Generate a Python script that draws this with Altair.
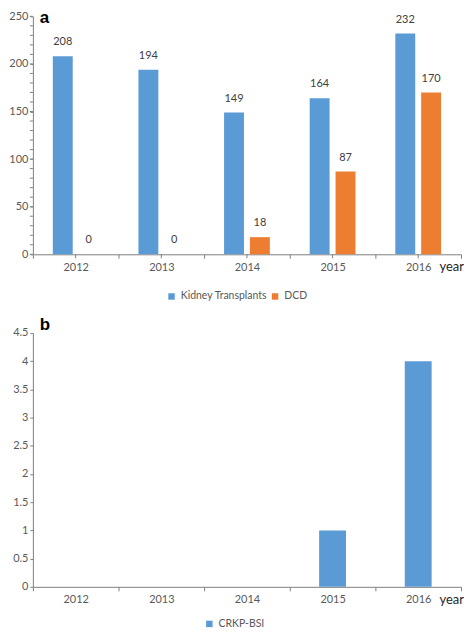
import altair as alt
import pandas as pd

years = ["2012", "2013", "2014", "2015", "2016"]
kidney = [208, 194, 149, 164, 232]
dcd = [0, 0, 18, 87, 170]
crkp = [0, 0, 0, 1, 4]
series_a = ["Kidney Transplants", "DCD"]
series_b = ["CRKP-BSI"]
colors_a = ["#5B9BD5", "#ED7D31"]
colors_b = ["#5B9BD5"]
major_a = [0, 50, 100, 150, 200, 250]
minor_a = list(range(0, 251, 10))
ticks_b = [0, 0.5, 1, 1.5, 2, 2.5, 3, 3.5, 4, 4.5]

df_a = pd.DataFrame({
    "year": years * 2,
    "series": [series_a[0]] * len(years) + [series_a[1]] * len(years),
    "value": kidney + dcd,
})
df_b = pd.DataFrame({"year": years, "series": series_b[0], "value": crkp})
df_years = pd.DataFrame({"year": years})
df_minor = pd.DataFrame({"value": minor_a})

W = 430
HA = 239
HB = 255
FONT = "Lato"
AXC = "#7F7F7F"
LBC = "#595959"
LFS = 11


def x_enc():
    return alt.X(
        "year:N", sort=years, title=None,
        scale=alt.Scale(paddingInner=0, paddingOuter=0),
        axis=alt.Axis(tickBand="extent", tickSize=4, tickColor=AXC, domainColor=AXC,
                      labelFont=FONT, labelFontSize=LFS, labelColor=LBC, labelPadding=3,
                      labelAngle=0),
    )


def year_label(h):
    return alt.Chart(df_years.head(1)).mark_text(
        font=FONT, fontSize=13, color="#262626", align="right", baseline="middle"
    ).encode(x=alt.value(W + 3), y=alt.value(h + 13), text=alt.value("year"))


def panel_letter(letter, y):
    return alt.Chart(df_years.head(1)).mark_text(
        font="Liberation Sans", fontSize=17, fontWeight="bold", color="black",
        align="left", baseline="top"
    ).encode(x=alt.value(7), y=alt.value(y), text=alt.value(letter))


# ---- panel a
base_a = alt.Chart(df_a)
y_a = alt.Y("value:Q", title=None,
            scale=alt.Scale(domain=[0, 250], nice=False),
            axis=alt.Axis(values=major_a, grid=False, tickSize=3, tickColor=AXC,
                          domainColor=AXC, labelFont=FONT, labelFontSize=LFS,
                          labelColor=LBC, labelPadding=2))
xoff_a = alt.XOffset("series:N", sort=series_a,
                     scale=alt.Scale(paddingInner=0.2308, paddingOuter=0.77))
color_a = alt.Color("series:N", sort=series_a,
                    scale=alt.Scale(domain=series_a, range=colors_a),
                    legend=alt.Legend(title=None, orient="none", legendX=134, legendY=HA + 37,
                                      direction="horizontal", symbolType="square",
                                      symbolSize=42, symbolStrokeWidth=0, labelFont=FONT,
                                      labelFontSize=10.5, labelColor=LBC, columnPadding=2,
                                      labelOffset=4, padding=0))
bars_a = base_a.mark_bar().encode(x=x_enc(), xOffset=xoff_a, y=y_a, color=color_a)
labels_a = base_a.mark_text(font=FONT, fontSize=LFS, color="#404040", dy=-14).encode(
    x=alt.X("year:N", sort=years), xOffset=xoff_a, y="value:Q", text="value:Q")
cticks_a = alt.Chart(df_years).mark_rule(color=AXC).encode(
    x=alt.X("year:N", sort=years), y=alt.value(HA), y2=alt.value(HA + 4))
minor_ticks_a = alt.Chart(df_minor).mark_rule(color=AXC).encode(
    y=alt.Y("value:Q"), x=alt.value(-3), x2=alt.value(0))
panel_a = alt.layer(bars_a, labels_a, cticks_a, minor_ticks_a, year_label(HA),
                    panel_letter("a", -6)).properties(width=W, height=HA)

# ---- panel b
base_b = alt.Chart(df_b)
y_b = alt.Y("value:Q", title=None,
            scale=alt.Scale(domain=[0, 4.5], nice=False),
            axis=alt.Axis(values=ticks_b, format="~g", grid=False, tickSize=3, tickColor=AXC,
                          domainColor=AXC, labelFont=FONT, labelFontSize=LFS,
                          labelColor=LBC, labelPadding=2, labelOverlap=False,
                          labelBound=False, labelFlush=False))
color_b = alt.Color("series:N",
                    scale=alt.Scale(domain=series_b, range=colors_b),
                    legend=alt.Legend(title=None, orient="none", legendX=172, legendY=HB + 32,
                                      direction="horizontal", symbolType="square",
                                      symbolSize=42, symbolStrokeWidth=0, labelFont=FONT,
                                      labelFontSize=10.5, labelColor=LBC, labelOffset=4,
                                      padding=0))
bars_b = base_b.mark_bar(width=27).encode(x=x_enc(), y=y_b, color=color_b)
panel_b = alt.layer(bars_b, year_label(HB),
                    panel_letter("b", -16)).properties(width=W, height=HB)

chart = alt.vconcat(panel_a, panel_b, spacing=14).resolve_scale(
    color="independent", x="independent", y="independent").resolve_legend(
    color="independent").properties(
    padding={"left": 0, "top": 0, "right": 0, "bottom": 0}).configure_view(stroke=None)

chart.save("out.html", embed_options={"renderer": "svg", "actions": False})
